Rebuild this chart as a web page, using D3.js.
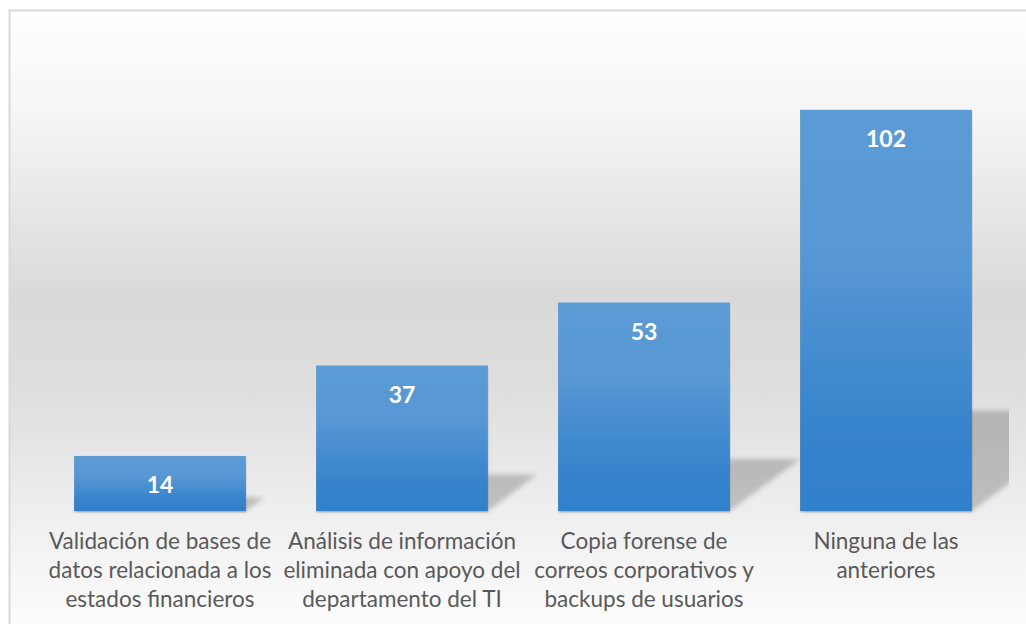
<!DOCTYPE html>
<html>
<head>
<meta charset="utf-8">
<script src="https://cdn.jsdelivr.net/npm/d3@7"></script>
<style>
  html, body { margin: 0; padding: 0; background: #ffffff; }
  svg { display: block; }
</style>
</head>
<body>
<svg id="chart" width="1026" height="624"></svg>
<script>
// Responses per category
const categories = [
  "Validación de bases de datos relacionada a los estados financieros",
  "Análisis de información eliminada con apoyo del departamento del TI",
  "Copia forense de correos corporativos y backups de usuarios",
  "Ninguna de las anteriores"
];
// Category labels broken into display lines
const categoryLines = [
  ["Validación de bases de", "datos relacionada a los", "estados financieros"],
  ["Análisis de información", "eliminada con apoyo del", "departamento del TI"],
  ["Copia forense de", "correos corporativos y", "backups de usuarios"],
  ["Ninguna de las", "anteriores"]
];
const values = [14, 37, 53, 102];
const yDomain = [0, 120];

const W = 1026, H = 624;
const plot = { left: 39, right: 1007, top: 39, bottom: 511 };

const svg = d3.select("#chart");
const defs = svg.append("defs");

// Chart area background: white -> light gray -> white
const bg = defs.append("linearGradient")
  .attr("id", "bgGrad")
  .attr("gradientUnits", "userSpaceOnUse")
  .attr("x1", 0).attr("y1", 10).attr("x2", 0).attr("y2", 624);
[[0, "#ffffff"], [0.16, "#f6f6f6"], [0.47, "#d9d9d9"], [0.62, "#dedede"], [0.84, "#f0f0f0"], [1, "#fcfcfc"]]
  .forEach(([o, c]) => bg.append("stop").attr("offset", o).attr("stop-color", c));

// Bar fill: lighter blue on top, deeper blue at the base
const barGrad = defs.append("linearGradient")
  .attr("id", "barGrad")
  .attr("x1", 0).attr("y1", 0).attr("x2", 0).attr("y2", 1);
[[0, "#5b9bd5"], [0.35, "#5898d4"], [0.8, "#3783cc"], [1, "#3280cb"]]
  .forEach(([o, c]) => barGrad.append("stop").attr("offset", o).attr("stop-color", c));

// Soft blur for the cast shadows
defs.append("filter")
  .attr("id", "shadowBlur")
  .attr("x", "-20%").attr("y", "-20%").attr("width", "140%").attr("height", "140%")
  .append("feGaussianBlur").attr("stdDeviation", 2.4);

// Small contact shadow under each bar
const drop = defs.append("filter")
  .attr("id", "barDrop")
  .attr("x", "-5%").attr("y", "-5%").attr("width", "110%").attr("height", "110%");
drop.append("feDropShadow")
  .attr("dx", 0.5).attr("dy", 1.5).attr("stdDeviation", 0.6)
  .attr("flood-color", "#000").attr("flood-opacity", 0.18);

defs.append("clipPath").attr("id", "plotClip")
  .append("rect")
  .attr("x", plot.left - 40).attr("y", plot.top)
  .attr("width", 1009 - (plot.left - 40)).attr("height", plot.bottom - plot.top + 6);

// Chart area with its thin border
svg.append("rect")
  .attr("x", 9.5).attr("y", 10.5)
  .attr("width", 1040).attr("height", 640)
  .attr("fill", "url(#bgGrad)")
  .attr("stroke", "#d9d9d9")
  .attr("stroke-width", 2);

const x = d3.scaleBand()
  .domain(categories)
  .range([plot.left, plot.right])
  .paddingInner(0.29)
  .paddingOuter(0.145);

const y = d3.scaleLinear()
  .domain(yDomain)
  .range([plot.bottom, plot.top]);

const data = categories.map((c, i) => ({ cat: c, value: values[i], lines: categoryLines[i] }));

// Perspective shadows thrown back and to the right of each bar
const shadowG = svg.append("g").attr("clip-path", "url(#plotClip)");
shadowG.selectAll("path")
  .data(data)
  .join("path")
  .attr("d", d => {
    const x0 = x(d.cat), x1 = x0 + x.bandwidth();
    const base = y(0);
    const sh = (base - y(d.value)) * 0.25;
    const dx = sh * 1.35;
    return `M${x0},${base} L${x1},${base} L${x1 + dx},${base - sh} L${x0 + dx},${base - sh} Z`;
  })
  .attr("fill", "#000")
  .attr("fill-opacity", 0.2)
  .attr("filter", "url(#shadowBlur)");

// Bars
svg.append("g")
  .selectAll("rect")
  .data(data)
  .join("rect")
  .attr("x", d => x(d.cat))
  .attr("y", d => y(d.value))
  .attr("width", x.bandwidth())
  .attr("height", d => y(0) - y(d.value))
  .attr("fill", "url(#barGrad)")
  .attr("filter", "url(#barDrop)");

// Value labels inside the top of each bar
svg.append("g")
  .selectAll("text")
  .data(data)
  .join("text")
  .attr("x", d => x(d.cat) + x.bandwidth() / 2)
  .attr("y", d => y(d.value) + 29)
  .attr("dy", "0.35em")
  .attr("text-anchor", "middle")
  .attr("font-family", "Lato, 'Open Sans', sans-serif")
  .attr("font-weight", 700)
  .attr("font-size", 23)
  .attr("fill", "#ffffff")
  .text(d => d.value);

// Category axis labels
const xAxis = d3.axisBottom(x).tickSize(0).tickFormat("");
const axisG = svg.append("g")
  .attr("transform", `translate(0,${plot.bottom})`)
  .call(xAxis);
axisG.select(".domain").remove();

axisG.selectAll(".tick text").remove();
axisG.selectAll(".tick")
  .append("text")
  .attr("text-anchor", "middle")
  .attr("font-family", "Lato, 'Open Sans', sans-serif")
  .attr("font-size", 22.5)
  .attr("fill", "#595959")
  .each(function(c) {
    const lines = categoryLines[categories.indexOf(c)];
    const t = d3.select(this);
    lines.forEach((ln, i) => {
      t.append("tspan")
        .attr("x", 0)
        .attr("y", 30 + i * 29)
        .attr("dy", "0.35em")
        .text(ln);
    });
  });
</script>
</body>
</html>
